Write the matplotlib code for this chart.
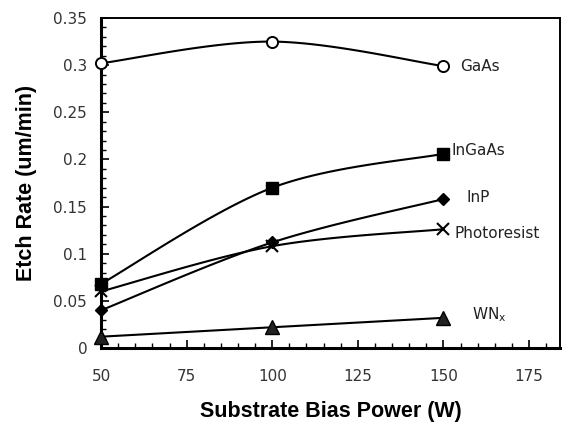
import numpy as np
import matplotlib
matplotlib.use("Agg")
import matplotlib.pyplot as plt
from matplotlib.ticker import MultipleLocator

power = [50, 100, 150]
gaas = [0.302, 0.325, 0.299]
ingaas = [0.068, 0.170, 0.206]
inp = [0.040, 0.112, 0.158]
photoresist = [0.060, 0.108, 0.126]
wnx = [0.012, 0.022, 0.032]

labels = ["GaAs", "InGaAs", "InP", "Photoresist", "WN$_\\mathregular{x}$"]
ytick_labels = ["0", "0.05", "0.1", "0.15", "0.2", "0.25", "0.3", "0.35"]


def smooth(xs, ys, n=40):
    xs = np.asarray(xs, float)
    ys = np.asarray(ys, float)
    pts = np.column_stack([xs, ys])
    out = []
    for i in range(len(pts) - 1):
        p0 = pts[max(i - 1, 0)]
        p1 = pts[i]
        p2 = pts[i + 1]
        p3 = pts[min(i + 2, len(pts) - 1)]
        c1 = p1 + (p2 - p0) / 6.0
        c2 = p2 - (p3 - p1) / 6.0
        t = np.linspace(0, 1, n)[:, None]
        seg = ((1 - t) ** 3) * p1 + 3 * ((1 - t) ** 2) * t * c1 + 3 * (1 - t) * t ** 2 * c2 + t ** 3 * p2
        out.append(seg if i == 0 else seg[1:])
    seg = np.vstack(out)
    return seg[:, 0], seg[:, 1]


fig = plt.figure(figsize=(5.65, 4.23), dpi=100)
ax = fig.add_axes([0.1788, 0.1773, 0.8122, 0.7801])

series = [
    (gaas, dict(marker="o", mfc="white", mec="black", ms=8, mew=1.4)),
    (ingaas, dict(marker="s", mfc="black", mec="black", ms=8)),
    (inp, dict(marker="D", mfc="black", mec="black", ms=6.5)),
    (photoresist, dict(marker="x", mfc="black", mec="black", ms=8, mew=1.5)),
    (wnx, dict(marker="^", mfc="#222222", mec="black", ms=9.5)),
]
for ys, mk in series:
    sx, sy = smooth(power, ys)
    ax.plot(sx, sy, color="black", lw=1.5, zorder=2)
    ax.plot(power, ys, ls="none", zorder=3, clip_on=False, **mk)

txt = dict(fontsize=11, va="center", ha="left", color="#222222")
ax.text(155, 0.299, labels[0], **txt)
ax.text(152.3, 0.210, labels[1], **txt)
ax.text(156.7, 0.160, labels[2], **txt)
ax.text(153.2, 0.121, labels[3], **txt)
ax.text(158.4, 0.035, labels[4], **txt)

ax.set_xlim(50, 184)
ax.set_ylim(0, 0.35)
ax.xaxis.set_major_locator(MultipleLocator(25))
ax.xaxis.set_minor_locator(MultipleLocator(5))
ax.set_yticks(np.arange(0, 0.351, 0.05))
ax.set_yticklabels(ytick_labels)
ax.yaxis.set_minor_locator(MultipleLocator(0.01))
ax.tick_params(which="major", direction="in", length=6, width=1.2, labelsize=11,
               colors="black", labelcolor="#333333")
ax.tick_params(which="minor", direction="in", length=3.5, width=1)
ax.tick_params(axis="y", which="major", pad=10)
ax.tick_params(axis="x", which="major", pad=15)
for sp in ax.spines.values():
    sp.set_linewidth(1.4)
ax.spines["left"].set_linewidth(2.2)
ax.spines["bottom"].set_linewidth(2.2)

ax.set_xlabel("Substrate Bias Power (W)", fontsize=15.5, fontweight="bold",
              family="Liberation Sans", labelpad=12)
ax.set_ylabel("Etch Rate (um/min)", fontsize=15.5, fontweight="bold",
              family="Liberation Sans", labelpad=12)

fig.savefig("out.png", dpi=100)
